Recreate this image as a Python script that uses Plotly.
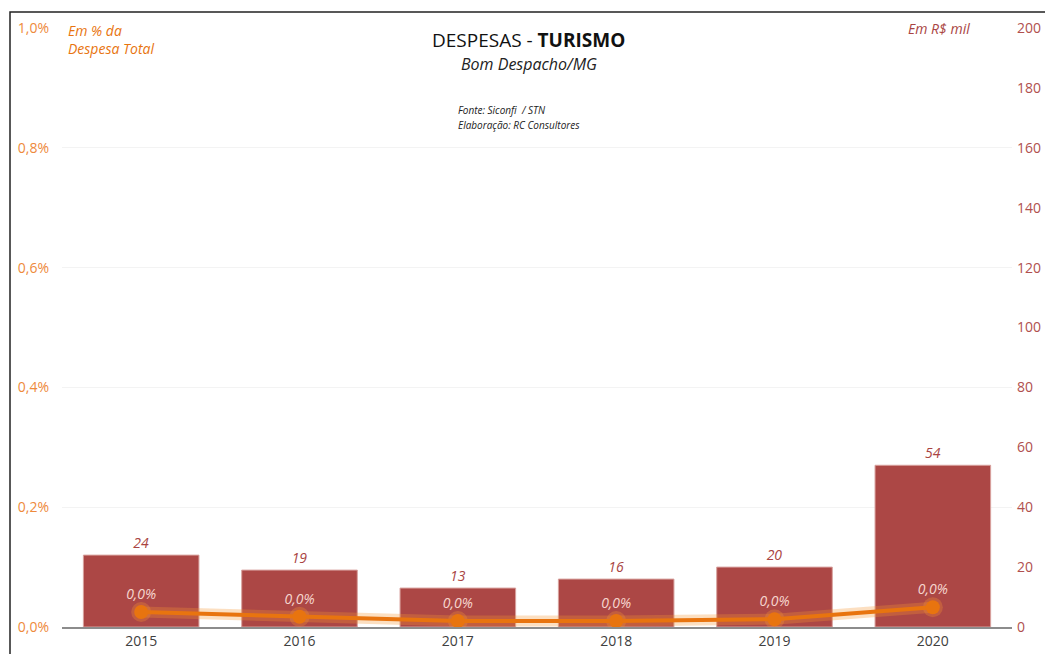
import plotly.graph_objects as go

anos = ["2015", "2016", "2017", "2018", "2019", "2020"]
despesa_mil = [24, 19, 13, 16, 20, 54]
pct_despesa_total = [0.00025, 0.00017, 0.00010, 0.00010, 0.00013, 0.00033]

FONT = "Open Sans"
RED = "#A94442"
ORANGE = "#E8740F"

fig = go.Figure()

fig.add_trace(go.Bar(
    x=anos, y=despesa_mil, yaxis="y",
    marker=dict(color="#AC4745", line=dict(color="#D8A29E", width=1)),
    width=0.73,
    text=[str(v) for v in despesa_mil], textposition="outside",
    textfont=dict(family=FONT, size=14, color=RED, style="italic"),
    cliponaxis=False, showlegend=False,
))

# glow behind the line
fig.add_trace(go.Scatter(
    x=anos, y=pct_despesa_total, yaxis="y2", mode="lines+markers",
    line=dict(color="rgba(245,150,50,0.30)", width=11),
    marker=dict(size=20, color="rgba(245,150,50,0.30)"),
    hoverinfo="skip", showlegend=False,
))
fig.add_trace(go.Scatter(
    x=anos, y=pct_despesa_total, yaxis="y2", mode="lines+markers+text",
    line=dict(color=ORANGE, width=4),
    marker=dict(size=14, color=ORANGE),
    texttemplate="%{y:.1%}", textposition="top center",
    textfont=dict(family=FONT, size=14, color="#F6D6CF", style="italic"),
    cliponaxis=False, showlegend=False,
))

fig.update_layout(
    autosize=True,
    margin=dict(l=62, r=33, t=28, b=27, autoexpand=False),
    paper_bgcolor="white", plot_bgcolor="white",
    separators=",.",
    bargap=0.27,
    font=dict(family=FONT, size=14, color="#404040"),
    xaxis=dict(
        type="category", showgrid=False, showline=True, linecolor="#8C8C8C",
        linewidth=1.5, ticks="", automargin=False,
        tickfont=dict(size=14, color="#404040"),
    ),
    yaxis=dict(
        side="right", range=[0, 200], dtick=20, showgrid=False, zeroline=False,
        showline=False, ticks="", ticklabelstandoff=4, automargin=False,
        tickfont=dict(size=14, color="#B0504E"),
    ),
    yaxis2=dict(
        side="left", overlaying="y", range=[0, 0.01], dtick=0.002,
        tickformat=".1%", showgrid=True, gridcolor="#F3F3F3", gridwidth=1,
        zeroline=False, showline=False, ticks="", ticklabelstandoff=12,
        automargin=False, tickfont=dict(size=14, color="#EE8A3C"),
    ),
    shapes=[dict(
        type="rect", xref="paper", yref="paper",
        x0=(10 - 62) / 950, x1=1.2, y0=-0.2, y1=(627 - 12) / 599,
        line=dict(color="#222222", width=1.5), fillcolor="rgba(0,0,0,0)", layer="above",
    )],
    annotations=[
        dict(xref="paper", yref="paper", x=(528 - 62) / 950, y=(627 - 40) / 599,
             text="DESPESAS - <b>TURISMO</b>", showarrow=False,
             font=dict(family=FONT, size=19, color="#111111"), xanchor="center", yanchor="middle"),
        dict(xref="paper", yref="paper", x=(529 - 62) / 950, y=(627 - 64) / 599,
             text="<i>Bom Despacho/MG</i>", showarrow=False,
             font=dict(family=FONT, size=16, color="#222222"), xanchor="center", yanchor="middle"),
        dict(xref="paper", yref="paper", x=(456 - 62) / 950, y=(627 - 110) / 599,
             text="<i>Fonte: Siconfi  / STN</i>", showarrow=False,
             font=dict(family=FONT, size=10, color="#222222"), xanchor="left", yanchor="middle"),
        dict(xref="paper", yref="paper", x=(456 - 62) / 950, y=(627 - 125) / 599,
             text="<i>Elaboração: RC Consultores</i>", showarrow=False,
             font=dict(family=FONT, size=10, color="#222222"), xanchor="left", yanchor="middle"),
        dict(xref="paper", yref="paper", x=(66 - 62) / 950, y=(627 - 19) / 599,
             text="<i>Em % da<br>Despesa Total</i>", showarrow=False, align="left",
             font=dict(family=FONT, size=14, color="#E8740F"), xanchor="left", yanchor="top"),
        dict(xref="paper", yref="paper", x=(939 - 62) / 950, y=(627 - 28) / 599,
             text="<i>Em R$ mil</i>", showarrow=False,
             font=dict(family=FONT, size=14, color="#A94442"), xanchor="center", yanchor="middle"),
    ],
)

fig.write_html(
    "out.html",
    config={"displayModeBar": False},
    default_width="1045px;position:absolute;left:0;top:0",
    default_height="654px",
)
